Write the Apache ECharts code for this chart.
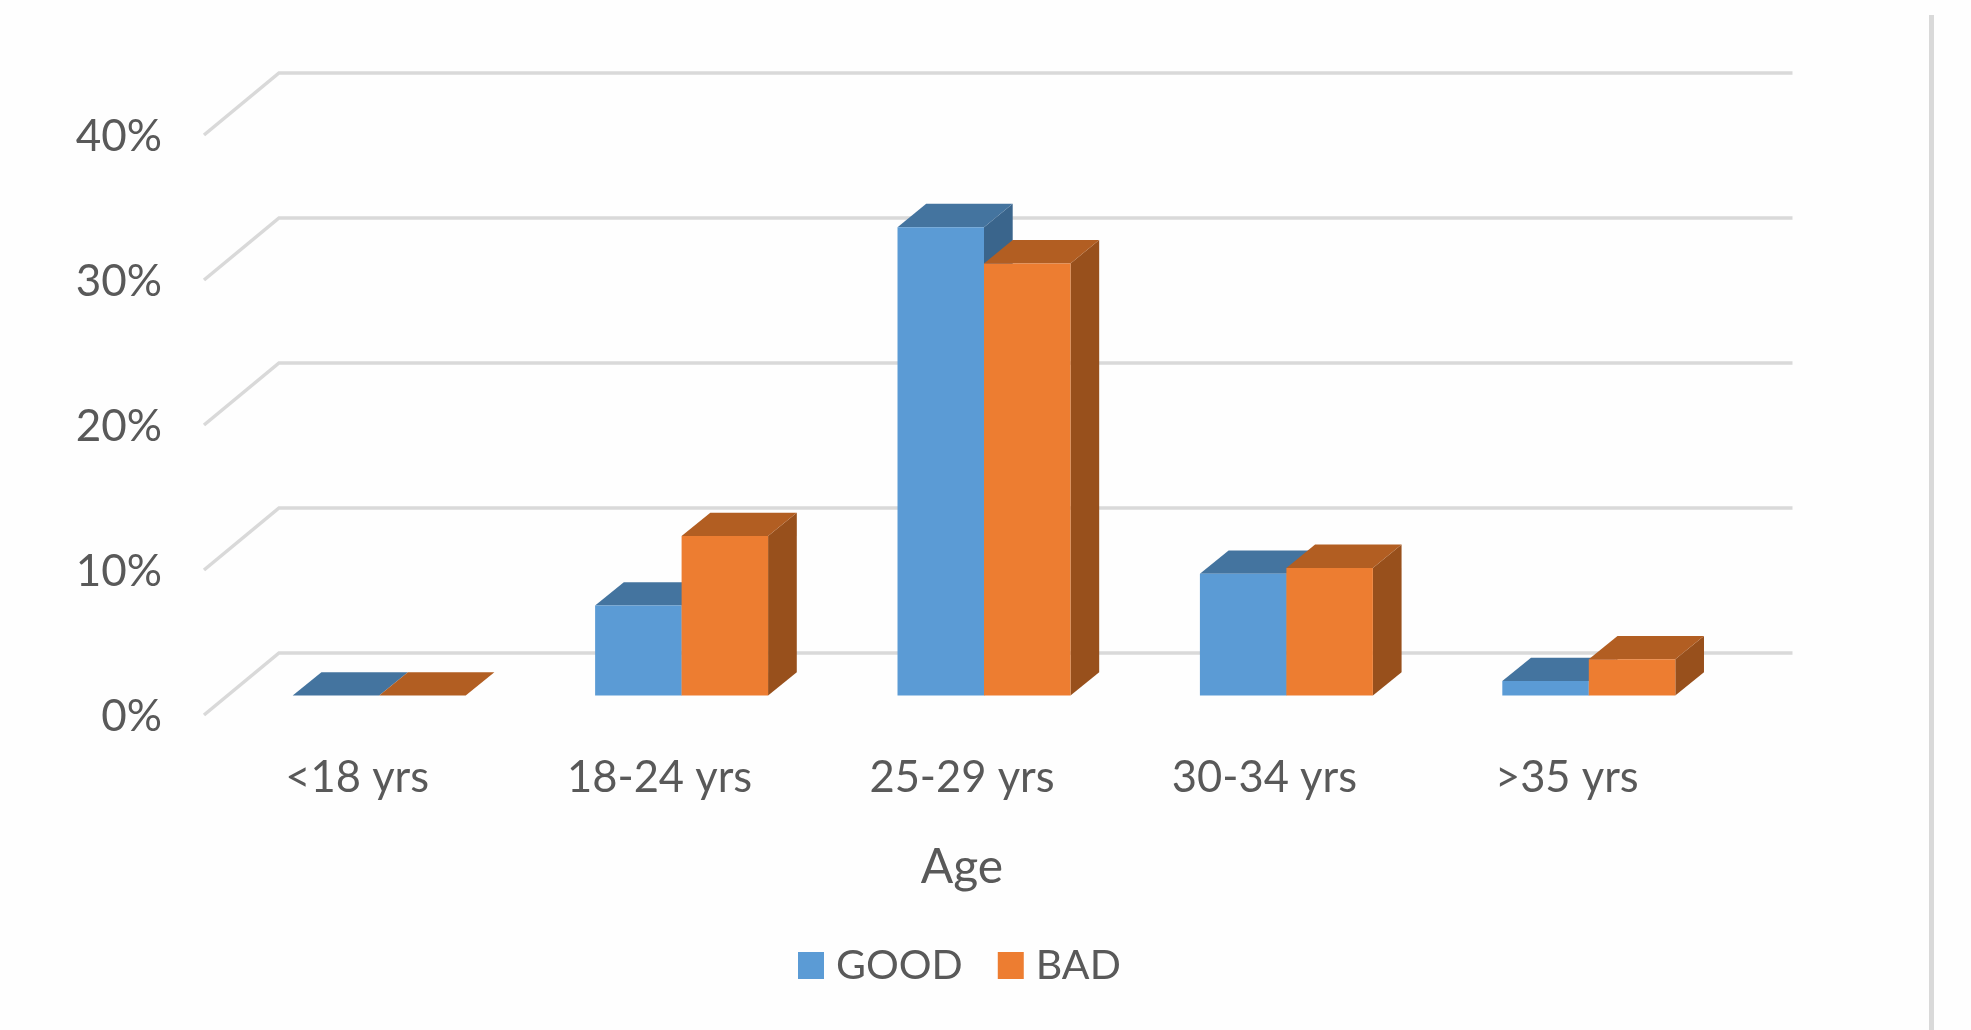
<!DOCTYPE html>
<html>
<head>
<meta charset="utf-8">
<title>Age</title>
<style>html,body{margin:0;padding:0;background:#fff}#chart{width:1971px;height:1030px}</style>
<script src="https://cdn.jsdelivr.net/npm/echarts@6/dist/echarts.min.js"></script>
</head>
<body>
<div id="chart"></div>
<script>
// Age groups and the share of each response, in percent
const categories = ['<18 yrs', '18-24 yrs', '25-29 yrs', '30-34 yrs', '>35 yrs'];
const good = [0, 6.2, 32.3, 8.4, 1];
const bad = [0, 11, 29.8, 8.8, 2.5];
const yTicks = [0, 10, 20, 30, 40];

const chart = echarts.init(document.getElementById('chart'));

const textColor = '#595959';
const fontFamily = 'Lato';
const gridColor = '#D9D9D9';

// Pseudo-3D projection of the floor and of the column boxes, in pixels
const floor = { dx: 75, dy: -62, right: 1792.5 };
const box = { shiftX: 22, shiftY: -19.5, dx: 28.7, dy: -23.3, widthRatio: 0.286 };

function poly(points, fill) {
  return { type: 'polygon', shape: { points }, style: { fill, stroke: null } };
}

// Side wall diagonal plus back-wall line for each value tick
function renderGridLine(params, api) {
  const y = api.coord([0, api.value(0)])[1];
  const x0 = params.coordSys.x - 2;
  return {
    type: 'polyline',
    shape: { points: [[x0, y], [x0 + floor.dx, y + floor.dy], [floor.right, y + floor.dy]] },
    style: { fill: null, stroke: gridColor, lineWidth: 3.5 },
    silent: true
  };
}

// One column drawn as front, top and right faces; side -1 sits left of the category centre
function columnRenderer(side, colors) {
  return function (params, api) {
    const cat = api.value(0);
    const w = api.size([1, 0])[0] * box.widthRatio;
    const cx = api.coord([cat, 0])[0] + box.shiftX;
    const x0 = side < 0 ? cx - w : cx;
    const x1 = x0 + w;
    const yb = api.coord([cat, 0])[1] + box.shiftY;
    const yt = api.coord([cat, api.value(1)])[1] + box.shiftY;
    const { dx, dy } = box;
    return {
      type: 'group',
      children: [
        poly([[x1, yt], [x1 + dx, yt + dy], [x1 + dx, yb + dy], [x1, yb]], colors.side),
        poly([[x0, yt], [x1, yt], [x1 + dx, yt + dy], [x0 + dx, yt + dy]], colors.top),
        poly([[x0, yt], [x1, yt], [x1, yb], [x0, yb]], colors.front)
      ]
    };
  };
}

const pairs = values => values.map((v, i) => [i, v]);

chart.setOption({
  animation: false,
  backgroundColor: '#FEFEFE',
  grid: { left: 206, top: 135, width: 1512, height: 580, containLabel: false },
  legend: {
    data: ['GOOD', 'BAD'],
    left: 793,
    top: 940,
    icon: 'rect',
    itemWidth: 26,
    itemHeight: 27,
    itemGap: 35,
    textStyle: { color: textColor, fontFamily, fontSize: 41, padding: [0, 0, 0, 7] }
  },
  xAxis: {
    type: 'category',
    data: categories,
    name: 'Age',
    nameLocation: 'middle',
    nameGap: 129,
    nameTextStyle: { color: textColor, fontFamily, fontSize: 48 },
    axisLine: { show: false },
    axisTick: { show: false },
    splitLine: { show: false },
    axisLabel: { color: textColor, fontFamily, fontSize: 43.5, margin: 41, interval: 0 }
  },
  yAxis: {
    type: 'value',
    min: 0,
    max: 40,
    interval: 10,
    axisLine: { show: false },
    axisTick: { show: false },
    splitLine: { show: false },
    axisLabel: {
      margin: 44,
      formatter: '{pct|{value}%}',
      rich: { pct: { color: textColor, fontFamily, fontSize: 44, padding: [4, 0, 0, 0] } }
    }
  },
  series: [
    {
      type: 'custom',
      name: 'grid',
      data: yTicks.map(t => [t]),
      encode: { y: 0 },
      clip: false,
      silent: true,
      z: 1,
      renderItem: renderGridLine
    },
    {
      type: 'custom',
      name: 'GOOD',
      data: pairs(good),
      encode: { x: 0, y: 1 },
      clip: false,
      z: 2,
      itemStyle: { color: '#5B9BD5' },
      renderItem: columnRenderer(-1, { front: '#5B9BD5', top: '#44749F', side: '#3A658C' })
    },
    {
      type: 'custom',
      name: 'BAD',
      data: pairs(bad),
      encode: { x: 0, y: 1 },
      clip: false,
      z: 3,
      itemStyle: { color: '#ED7D31' },
      renderItem: columnRenderer(1, { front: '#ED7D31', top: '#B25E22', side: '#98501C' })
    }
  ],
  graphic: [
    {
      type: 'rect',
      left: 1929,
      top: 15,
      shape: { width: 5, height: 1015 },
      style: { fill: gridColor }
    }
  ]
});
</script>
</body>
</html>
